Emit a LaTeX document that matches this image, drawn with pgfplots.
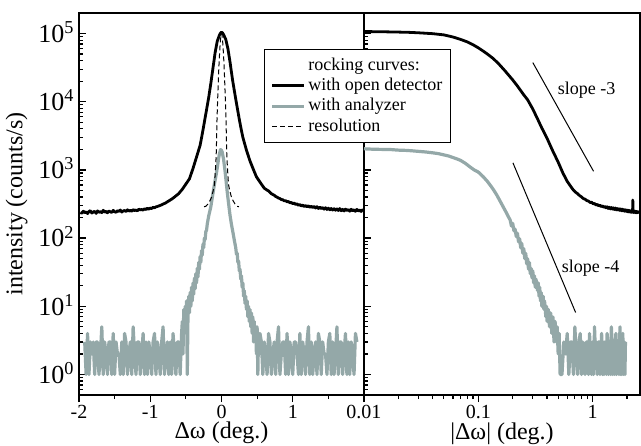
\documentclass[border=0pt]{standalone}
\usepackage{fontspec}
\setmainfont{Liberation Serif}
\usepackage{pgfplots}
\pgfplotsset{compat=1.18}
\usetikzlibrary{calc}
\definecolor{anagray}{RGB}{148,168,168}

\tikzset{
  blk/.style={black, line width=1.4pt, line join=round},
  gry/.style={anagray, line width=1.6pt, line join=round},
  res/.style={black, line width=0.5pt, dash pattern=on 2.5pt off 1.5pt},
}

\begin{document}
\begin{tikzpicture}
% left panel: linear angle
\begin{axis}[name=L,
  scale only axis, width=142.5pt, height=191pt,
  ymode=log, ymin=0.5, ymax=2e5,
  ytick={1,10,100,1000,10000,100000},
  minor ytick={0.6,0.7,0.8,0.9,2,3,4,5,6,7,8,9,20,30,40,50,60,70,80,90,
    200,300,400,500,600,700,800,900,2000,3000,4000,5000,6000,7000,8000,9000,
    20000,30000,40000,50000,60000,70000,80000,90000},
  yticklabels={10\textsuperscript{0},10\textsuperscript{1},10\textsuperscript{2},10\textsuperscript{3},10\textsuperscript{4},10\textsuperscript{5}},
  xmin=-2, xmax=2,
  xtick={-2,-1,0,1}, xticklabels={-2,-1,0,1},
  minor xtick={-1.5,-0.5,0.5,1.5},
  tick pos=left, tick align=inside,
  major tick length=3.5pt, minor tick length=2pt,
  every major x tick/.append style={yshift=-3.5pt},
  every minor x tick/.append style={yshift=-2pt},
  tick style={black, line width=0.6pt},
  axis line style={line width=0.75pt},
  xticklabel style={font=\fontsize{10}{12}\selectfont, yshift=-1.5pt},
  yticklabel style={font=\fontsize{13}{15}\selectfont, inner sep=2pt, text height=8.8pt, text depth=0pt},
  label style={font=\fontsize{12}{14}\selectfont},
  xlabel style={yshift=5pt},
  ylabel={intensity (counts/s)},
  xlabel={Δω (deg.)},
]
% with analyzer
\addplot[gry] coordinates {
(-1.92,3) (-1.90,1) (-1.88,4) (-1.86,1) (-1.84,3) (-1.82,2) (-1.80,3) (-1.78,1) (-1.76,3) (-1.74,3)
(-1.72,1) (-1.70,2) (-1.68,5) (-1.66,1) (-1.64,3) (-1.62,2) (-1.60,1) (-1.58,3) (-1.56,3) (-1.54,1)
(-1.52,4) (-1.50,1) (-1.48,3) (-1.46,2) (-1.44,2) (-1.42,1) (-1.40,3) (-1.38,1) (-1.36,4) (-1.34,3)
(-1.32,1) (-1.30,2) (-1.28,3) (-1.26,1) (-1.24,5) (-1.22,2) (-1.20,1) (-1.18,3) (-1.16,3) (-1.14,1)
(-1.12,2) (-1.10,4) (-1.08,1) (-1.06,3) (-1.04,1) (-1.02,3) (-1.00,2) (-0.98,1) (-0.96,3) (-0.94,4)
(-0.92,1) (-0.90,3) (-0.88,2) (-0.86,1) (-0.84,3) (-0.82,5) (-0.80,1) (-0.78,2) (-0.76,3) (-0.74,1)
(-0.72,3) (-0.70,1) (-0.68,4) (-0.66,2) (-0.64,1) (-0.62,3) (-0.60,3) (-0.58,1) (-0.56,4)
(-0.55,6) (-0.54,2) (-0.53,9) (-0.52,4) (-0.51,10) (-0.50,6) (-0.49,12) (-0.48,1) (-0.47,8) (-0.46,14)
(-0.45,8) (-0.44,16) (-0.43,10) (-0.42,19) (-0.41,12) (-0.40,22) (-0.39,15) (-0.38,26) (-0.37,18) (-0.36,30)
(-0.35,22) (-0.34,36) (-0.33,27) (-0.32,44) (-0.31,35) (-0.30,54) (-0.29,44) (-0.28,66) (-0.27,56) (-0.26,82)
(-0.25,72) (-0.24,100) (-0.23,95) (-0.22,125) (-0.21,130) (-0.20,160) (-0.18,210) (-0.15,288) (-0.13,390)
(-0.11,525) (-0.09,700) (-0.07,912) (-0.05,1250) (-0.04,1480) (-0.03,1700) (-0.014,1980) (0.00,1950)
(0.01,1820) (0.03,1410) (0.05,955) (0.065,680) (0.08,479) (0.105,288) (0.12,215) (0.14,158) (0.16,122)
(0.18,93) (0.20,72) (0.21,58) (0.22,60) (0.23,44) (0.24,46) (0.25,33) (0.26,35) (0.27,25) (0.28,28)
(0.29,19) (0.30,22) (0.31,14) (0.32,17) (0.33,11) (0.34,14) (0.35,9) (0.36,12) (0.37,7) (0.38,10)
(0.39,6) (0.40,9) (0.41,5) (0.42,8) (0.43,4) (0.44,7) (0.45,3) (0.46,6) (0.47,3) (0.48,5)
(0.49,2) (0.50,5) (0.51,1) (0.52,4) (0.53,2) (0.54,4)
(0.56,3) (0.58,1) (0.60,3) (0.62,2) (0.64,1) (0.66,4) (0.68,3) (0.70,1) (0.72,2) (0.74,3)
(0.76,1) (0.78,3) (0.80,5) (0.82,1) (0.84,2) (0.86,3) (0.88,3) (0.90,1) (0.92,4) (0.94,1)
(0.96,3) (0.98,2) (1.00,1) (1.02,3) (1.04,3) (1.06,2) (1.08,1) (1.10,4) (1.12,1) (1.14,3)
(1.16,2) (1.18,1) (1.20,3) (1.22,5) (1.24,1) (1.26,3) (1.28,1) (1.30,2) (1.32,3) (1.34,1)
(1.36,4) (1.38,3) (1.40,1) (1.42,3) (1.44,2) (1.46,2) (1.48,1) (1.50,3) (1.52,4) (1.54,1)
(1.56,3) (1.58,1) (1.60,2) (1.62,5) (1.64,1) (1.66,3) (1.68,3) (1.70,1) (1.72,2) (1.74,4)
(1.76,1) (1.78,3) (1.80,1) (1.82,3) (1.84,2) (1.86,1) (1.88,4) (1.90,3)
};
% with open detector
\addplot[blk] coordinates {
(-1.98,238) (-1.96,231) (-1.94,248) (-1.92,236) (-1.90,242) (-1.88,229) (-1.86,246) (-1.84,252) (-1.82,233) (-1.80,241)
(-1.78,247) (-1.76,230) (-1.74,251) (-1.72,239) (-1.70,244) (-1.68,236) (-1.66,256) (-1.64,240) (-1.62,247) (-1.60,235)
(-1.58,250) (-1.56,243) (-1.54,238) (-1.52,255) (-1.50,244) (-1.48,239) (-1.46,252) (-1.44,246) (-1.42,258) (-1.40,241)
(-1.38,250) (-1.36,254) (-1.34,245) (-1.32,260) (-1.30,249) (-1.28,256) (-1.26,247) (-1.24,262) (-1.22,253) (-1.20,258)
(-1.18,251) (-1.16,266) (-1.14,259) (-1.12,263) (-1.10,257) (-1.08,270) (-1.06,262) (-1.04,274) (-1.02,266) (-1.00,276)
(-0.98,271) (-0.96,283) (-0.94,279) (-0.92,287) (-0.90,291) (-0.88,296) (-0.86,302) (-0.84,307) (-0.82,316) (-0.80,322)
(-0.78,330) (-0.76,341) (-0.74,350) (-0.72,362) (-0.70,372) (-0.68,386) (-0.66,400) (-0.64,416) (-0.62,432) (-0.60,450)
(-0.55,520) (-0.50,620) (-0.45,740) (-0.40,1050) (-0.35,1550) (-0.30,2300) (-0.275,3150) (-0.25,4400) (-0.23,5800)
(-0.21,7600) (-0.18,11500) (-0.15,18500) (-0.12,31000) (-0.09,52000) (-0.06,77000) (-0.03,94000) (-0.015,101000)
(0,104700) (0.015,102000) (0.03,96000) (0.06,82000) (0.09,60000) (0.12,38000) (0.155,20900) (0.18,14500)
(0.21,9500) (0.25,5500) (0.275,4000) (0.30,3000) (0.35,1950) (0.40,1350) (0.45,1000) (0.49,794) (0.55,640) (0.60,540)
(0.62,522) (0.64,505) (0.66,492) (0.68,470) (0.70,448) (0.72,436) (0.74,425) (0.76,408) (0.78,399) (0.80,386)
(0.82,380) (0.84,367) (0.86,366) (0.88,352) (0.90,354) (0.92,341) (0.94,344) (0.96,330) (0.98,333) (1.00,320)
(1.02,326) (1.04,312) (1.06,318) (1.08,303) (1.10,311) (1.12,296) (1.14,305) (1.16,291) (1.18,300) (1.20,287)
(1.22,298) (1.24,283) (1.26,293) (1.28,280) (1.30,291) (1.32,276) (1.34,289) (1.36,272) (1.38,284) (1.40,270)
(1.42,281) (1.44,266) (1.46,279) (1.48,263) (1.50,275) (1.52,260) (1.54,272) (1.56,258) (1.58,270) (1.60,256)
(1.62,268) (1.64,254) (1.66,271) (1.68,252) (1.70,264) (1.72,250) (1.74,266) (1.76,253) (1.78,262) (1.80,248)
(1.82,265) (1.84,251) (1.86,260) (1.88,247) (1.90,263) (1.92,250) (1.94,258) (1.96,246) (1.98,261) (2.00,252)
};
% resolution
\addplot[res, smooth] coordinates {
(-0.245,288) (-0.22,293) (-0.19,316) (-0.165,350) (-0.14,398) (-0.12,480) (-0.10,603) (-0.088,900)
(-0.076,1510) (-0.07,2500) (-0.065,4570) (-0.058,8000) (-0.05,14100) (-0.04,27000) (-0.03,44700)
(-0.015,80000) (0,100000) (0.015,80000) (0.03,44700) (0.04,27000) (0.05,14100) (0.058,8000)
(0.065,4570) (0.07,2500) (0.076,1510) (0.088,900) (0.10,603) (0.12,480) (0.14,398) (0.165,350)
(0.19,316) (0.22,293) (0.245,288)
};
\end{axis}

% right panel: log |angle|
\begin{axis}[name=R, at={(L.south east)}, anchor=south west,
  scale only axis, width=138pt, height=191pt,
  ymode=log, ymin=0.5, ymax=2e5,
  ytick={1,10,100,1000,10000,100000},
  minor ytick={0.6,0.7,0.8,0.9,2,3,4,5,6,7,8,9,20,30,40,50,60,70,80,90,
    200,300,400,500,600,700,800,900,2000,3000,4000,5000,6000,7000,8000,9000,
    20000,30000,40000,50000,60000,70000,80000,90000},
  yticklabels={},
  xmode=log, xmin=0.01, xmax=2.6,
  xtick={0.01,0.1,1}, xticklabels={0.01,0.1,1},
  minor xtick={0.02,0.03,0.04,0.05,0.06,0.07,0.08,0.09,0.2,0.3,0.4,0.5,0.6,0.7,0.8,0.9,2},
  tick pos=left, tick align=inside,
  major tick length=3.5pt, minor tick length=2pt,
  every major x tick/.append style={yshift=-3.5pt},
  every minor x tick/.append style={yshift=-2pt},
  tick style={black, line width=0.6pt},
  axis line style={line width=0.75pt},
  xticklabel style={font=\fontsize{10}{12}\selectfont, yshift=-1.5pt},
  label style={font=\fontsize{12}{14}\selectfont},
  xlabel style={yshift=5pt},
  xlabel={|Δω| (deg.)},
  legend cell align=left,
  legend style={at={(-0.361,0.906)}, anchor=north west, draw=black, line width=0.5pt,
    fill=white, font=\fontsize{9}{10}\selectfont, inner sep=3pt, row sep=0pt,
    nodes={inner sep=1.2pt}},
  legend image code/.code={\draw[#1] (0pt,0pt) -- (16pt,0pt);},
]
\addlegendimage{empty legend}
\addlegendentry{rocking curves:}
\addlegendimage{blk}
\addlegendentry{with open detector}
\addlegendimage{gry}
\addlegendentry{with analyzer}
\addlegendimage{res}
\addlegendentry{resolution}

\addplot[gry, forget plot] coordinates {
(0.010,2040) (0.012,2010) (0.014,2000) (0.017,1990) (0.020,1950) (0.023,1935) (0.026,1910) (0.030,1870)
(0.035,1830) (0.040,1780) (0.045,1730) (0.050,1660) (0.055,1600) (0.060,1520) (0.065,1450) (0.070,1380)
(0.077,1250) (0.085,1100) (0.092,1000) (0.100,930) (0.110,800) (0.120,680) (0.127,600) (0.135,520)
(0.145,430) (0.155,350) (0.165,288) (0.175,240) (0.185,200)
(0.19,185) (0.195,150) (0.20,165) (0.205,128) (0.21,135) (0.215,105) (0.22,118) (0.225,88) (0.23,98) (0.235,72)
(0.24,84) (0.245,60) (0.25,70) (0.255,50) (0.26,60) (0.265,42) (0.27,50) (0.275,35) (0.28,44) (0.285,30)
(0.29,36) (0.295,26) (0.30,33) (0.305,22) (0.31,28) (0.315,19) (0.32,25) (0.33,17) (0.335,22) (0.34,14)
(0.345,19) (0.35,12) (0.355,16) (0.36,10) (0.37,14) (0.375,9) (0.38,12) (0.39,7) (0.395,10) (0.40,6)
(0.41,9) (0.42,5) (0.43,8) (0.44,4) (0.45,7) (0.46,3) (0.47,6) (0.48,3) (0.49,5) (0.50,2)
(0.51,4) (0.52,1)
(0.54,1) (0.56,3) (0.58,2) (0.60,4) (0.62,1) (0.64,3) (0.66,3) (0.68,1) (0.70,5) (0.72,2)
(0.74,1) (0.76,3) (0.78,4) (0.80,1) (0.82,3) (0.84,2) (0.86,1) (0.88,3) (0.90,3) (0.92,1)
(0.94,4) (0.96,2) (0.98,1) (1.00,3) (1.02,1) (1.04,5) (1.06,2) (1.08,3) (1.10,1) (1.12,3)
(1.14,3) (1.16,1) (1.18,2) (1.20,4) (1.22,1) (1.24,3) (1.26,1) (1.28,3) (1.30,2) (1.32,1)
(1.34,4) (1.36,3) (1.38,1) (1.40,2) (1.42,3) (1.44,1) (1.46,5) (1.48,3) (1.50,1) (1.52,3)
(1.54,2) (1.56,1) (1.58,3) (1.60,4) (1.62,1) (1.64,3) (1.66,2) (1.68,2) (1.70,1) (1.72,3)
(1.74,5) (1.76,1) (1.78,3) (1.80,1) (1.82,3) (1.84,4) (1.86,1) (1.88,2) (1.90,3) (1.92,1) (1.94,3)
};
\addplot[blk, forget plot] coordinates {
(0.010,107000) (0.012,106500) (0.015,106000) (0.020,105000) (0.025,104000) (0.030,102500) (0.040,99500)
(0.050,95500) (0.060,89000) (0.070,82000) (0.080,75500) (0.090,68500) (0.100,61700) (0.110,55500)
(0.120,50100) (0.135,43000) (0.150,36300) (0.170,28800) (0.200,20900) (0.220,17000) (0.250,12600)
(0.270,10700) (0.300,7800) (0.330,5600) (0.360,4100) (0.400,2900) (0.445,1950) (0.500,1300)
(0.550,900) (0.600,680) (0.650,560)
(0.68,505) (0.71,470) (0.74,448) (0.77,420) (0.80,402) (0.83,380) (0.86,372) (0.89,355) (0.92,350) (0.95,333)
(0.98,336) (1.01,318) (1.04,322) (1.07,306) (1.10,312) (1.13,298) (1.16,303) (1.19,290) (1.22,297) (1.25,283)
(1.28,292) (1.31,278) (1.34,288) (1.37,272) (1.40,284) (1.43,268) (1.46,281) (1.49,266) (1.52,278) (1.55,262)
(1.58,276) (1.61,259) (1.64,272) (1.67,258) (1.70,270) (1.73,255) (1.76,268) (1.79,252) (1.82,266) (1.85,250)
(1.88,262) (1.91,248) (1.94,260) (1.97,246) (2.00,258) (2.03,243) (2.06,256) (2.09,241) (2.12,254) (2.15,240)
(2.18,252) (2.21,238) (2.24,255) (2.25,362) (2.26,250) (2.29,237) (2.32,250) (2.35,236) (2.38,248) (2.41,235)
(2.44,246) (2.47,236) (2.50,244) (2.53,238) (2.55,242)
};
% slope guides
\addplot[black, line width=0.5pt, forget plot] coordinates {(0.30,37500) (1.02,954)};
\addplot[black, line width=0.5pt, forget plot] coordinates {(0.201,1270) (0.711,8.1)};
\node[font=\fontsize{9}{10}\selectfont] at (axis cs:0.887,15000) {slope -3};
\node[font=\fontsize{9}{10}\selectfont] at (axis cs:0.96,36) {slope -4};
\end{axis}

\pgfresetboundingbox
\path ($(L.south west)+(-39.5pt,-25pt)$) rectangle ($(R.north east)+(0.5pt,6.5pt)$);
\end{tikzpicture}
\end{document}
